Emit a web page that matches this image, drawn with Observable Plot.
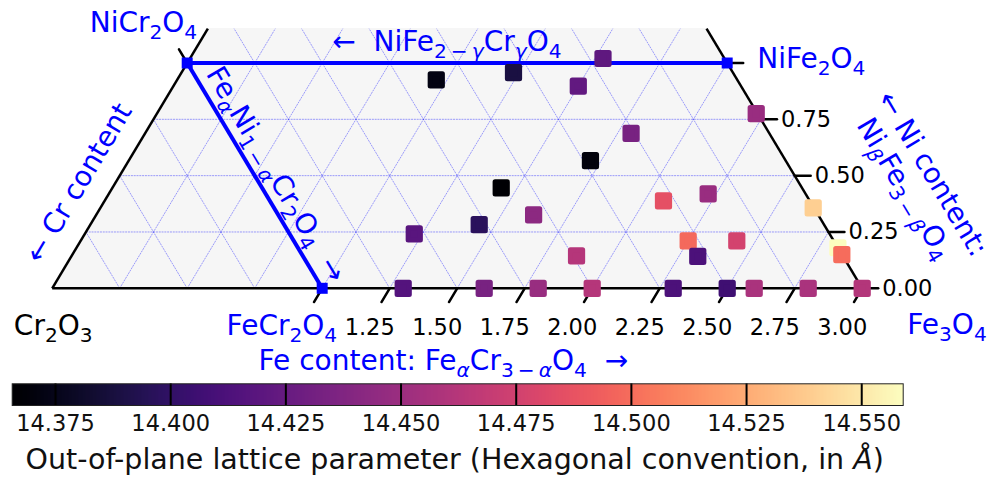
<!DOCTYPE html>
<html>
<head>
<meta charset="utf-8">
<script src="https://cdn.jsdelivr.net/npm/d3@7"></script>
<script src="https://cdn.jsdelivr.net/npm/@observablehq/plot@0.6"></script>
<style>
  html, body { margin: 0; padding: 0; background: #fff; }
  #chart svg { display: block; }
</style>
</head>
<body>
<div id="chart"></div>
<script>
// Film compositions in the Cr2O3 – Fe3O4 – NiO spinel/corundum system:
// Fe content (α), Ni content (β) per formula unit, and out-of-plane lattice parameter c (Å)
const feContent = [0.96, 1.23, 1.53, 1.50, 1.80, 1.71, 1.44, 2.22, 2.07, 2.22,
                   2.64, 2.82, 2.85, 2.25, 2.32, 2.43, 1.87, 1.62, 1.44, 1.22,
                   1.30, 1.60, 1.80, 2.00, 2.30, 2.50, 2.60, 2.80, 3.00];
const niContent = [0.925, 0.957, 1.02, 0.897, 0.688, 0.567, 0.446, 0.775, 0.388, 0.419,
                   0.357, 0.180, 0.149, 0.211, 0.142, 0.211, 0.144, 0.326, 0.283, 0.242,
                   0, 0, 0, 0, 0, 0, 0, 0, 0];
const latticeC  = [14.372, 14.389, 14.421, 14.423, 14.433, 14.370, 14.3656, 14.449, 14.486, 14.449,
                   14.540, 14.559, 14.500, 14.498, 14.412, 14.476, 14.462, 14.443, 14.397, 14.418,
                   14.416, 14.433, 14.448, 14.462, 14.412, 14.406, 14.457, 14.457, 14.461];

// Axis ticks
const feTicks = [1.00, 1.25, 1.50, 1.75, 2.00, 2.25, 2.50, 2.75, 3.00];
const feTickLabels = [1.25, 1.50, 1.75, 2.00, 2.25, 2.50, 2.75, 3.00];
const niTicks = [0.00, 0.25, 0.50, 0.75, 1.00];
const niTickLabels = [0.00, 0.25, 0.50, 0.75];
const crTicks = [2.00];
const gridSteps = [0.25, 0.5, 0.75, 1, 1.25, 1.5, 1.75, 2, 2.25, 2.5, 2.75];
const niGrid = [0.25, 0.5, 0.75, 1.0];
const cbTicks = [14.375, 14.400, 14.425, 14.450, 14.475, 14.500, 14.525, 14.550];

// Composition limits: total cations = 3, Ni axis shown up to niTop
const feMax = 3;
const niTop = 1.153;

// End members and corner compounds
const endmemberNames = ["NiCr_{2}O_{4}", "NiFe_{2}O_{4}", "FeCr_{2}O_{4}"];
const endmemberFe = [0, 2, 1];
const endmemberNi = [1, 1, 0];
const cornerNames = ["Cr_{2}O_{3}", "Fe_{3}O_{4}"];
const cornerFe = [0, 3];
const cornerNi = [0, 0];

const samples = feContent.map((fe, i) => ({fe, ni: niContent[i], c: latticeC[i]}));
const members = endmemberNames.map((name, i) => ({name, fe: endmemberFe[i], ni: endmemberNi[i]}));
const corners = cornerNames.map((name, i) => ({name, fe: cornerFe[i], ni: cornerNi[i]}));
const [NiCr, NiFe, FeCr] = members;
const [Cr2O3, Fe3O4] = corners;

// Ternary projection: horizontal = Fe + Ni/2, vertical = Ni
const X = d => d.fe + d.ni / 2;
const Y = d => d.ni;

// Background area and triangle edges (cut at niTop)
const outline = [
  {fe: 0, ni: 0},
  {fe: 0, ni: niTop},
  {fe: feMax - niTop, ni: niTop},
  {fe: feMax, ni: 0}
];
const edges = [
  {a: {fe: 0, ni: 0}, b: {fe: 0, ni: niTop}},
  {a: {fe: 0, ni: 0}, b: {fe: feMax, ni: 0}},
  {a: {fe: feMax, ni: 0}, b: {fe: feMax - niTop, ni: niTop}}
];

// Triangular grid: constant Ni, constant Fe, constant Cr
const gridSegs = [
  ...niGrid.map(n => ({a: {fe: 0, ni: n}, b: {fe: feMax - n, ni: n}})),
  ...gridSteps.map(f => { const n = Math.min(feMax - f, niTop); return {a: {fe: f, ni: 0}, b: {fe: f, ni: n}}; }),
  ...gridSteps.map(c => { const n = Math.min(c, niTop); return {a: {fe: c, ni: 0}, b: {fe: c - n, ni: n}}; })
];

const tieLines = [{a: NiCr, b: NiFe}, {a: NiCr, b: FeCr}];

const tickShape = {
  draw(context, l) { context.moveTo(0, 0); context.lineTo(0, -l); }
};

const cDomain = d3.extent(latticeC);
const blue = "#0000ff";
const font = "DejaVu Sans";
const fmt2 = d3.format(".2f");
const fmt3 = d3.format(".3f");

const seg = (opts) => ({
  x1: s => X(s.a), y1: s => Y(s.a), x2: s => X(s.b), y2: s => Y(s.b), ...opts
});

const W = 993;
const mainH = 375;

const main = Plot.plot({
  width: W,
  height: mainH,
  marginLeft: 51.7,
  marginRight: W - 861.7,
  marginTop: 62.5,
  marginBottom: mainH - 287.8,
  x: {domain: [0, feMax], axis: null},
  y: {domain: [0, 1], axis: null},
  color: {type: "linear", scheme: "magma", domain: cDomain},
  style: {background: "white", fontFamily: font, overflow: "visible"},
  marks: [
    Plot.areaY(outline, {x: X, y1: 0, y2: Y, fill: "#f6f6f6"}),
    Plot.link(gridSegs, seg({stroke: blue, strokeOpacity: 0.42, strokeWidth: 0.9, strokeDasharray: "2,0.8"})),
    Plot.link(edges, seg({stroke: "black", strokeWidth: 2.5})),
    // ticks
    Plot.vector(feTicks, {x: d => d, y: 0, rotate: 210.9, length: 16, anchor: "start", shape: tickShape, stroke: "black", strokeWidth: 2.5}),
    Plot.vector(niTicks, {x: d => feMax - d / 2, y: d => d, rotate: 90, length: 16, anchor: "start", shape: tickShape, stroke: "black", strokeWidth: 2.5}),
    Plot.vector(crTicks, {x: d => (feMax - d) / 2, y: d => feMax - d, rotate: -30.9, length: 16, anchor: "start", shape: tickShape, stroke: "black", strokeWidth: 2.5}),
    // tie lines between end members
    Plot.link(tieLines, seg({stroke: blue, strokeWidth: 4})),
    Plot.dot(members, {x: X, y: Y, symbol: "square", r: 6.2, fill: blue}),
    // samples
    Plot.dot(samples, {x: X, y: Y, symbol: "square", r: 6.9, fill: "c", stroke: "c", strokeWidth: 5, strokeLinejoin: "round"}),
    // tick labels
    Plot.text(feTickLabels, {x: d => d, y: 0, text: fmt2, dx: -20, dy: 39, fontSize: 22.5, fill: "black"}),
    Plot.text(niTickLabels, {x: d => feMax - d / 2, y: d => d, text: fmt2, dx: 20, textAnchor: "start", fontSize: 22.5, fill: "black"}),
    // end member and corner labels
    Plot.text([NiCr], {x: X, y: Y, text: "name", textAnchor: "end", dx: 10, dy: -39.5, fontSize: 28, fill: blue}),
    Plot.text([NiFe], {x: X, y: Y, text: "name", textAnchor: "start", dx: 30, dy: -4, fontSize: 28, fill: blue}),
    Plot.text([FeCr], {x: X, y: Y, text: "name", textAnchor: "end", dx: 15, dy: 38, fontSize: 28, fill: blue}),
    Plot.text([Cr2O3], {x: X, y: Y, text: "name", textAnchor: "middle", dx: 1, dy: 38, fontSize: 28, fill: "black"}),
    Plot.text([Fe3O4], {x: X, y: Y, text: "name", textAnchor: "start", dx: 45, dy: 37, fontSize: 28, fill: blue}),
    // series and axis titles
    Plot.text([NiCr], {x: X, y: Y, text: () => "←\u00a0 NiFe_{2\u2009−\u2009*γ*}Cr_{*γ*}O_{4}", textAnchor: "start", dx: 145, dy: -21, fontSize: 28, fill: blue}),
    Plot.text([{fe: 0.537, ni: 0.463}], {x: X, y: Y, text: () => "Fe_{*α*}Ni_{1\u2009−\u2009*α*}Cr_{2}O_{4} \u00a0→", rotate: 59.3, dx: 16, dy: -9.5, fontSize: 28, fill: blue}),
    Plot.text([FeCr], {x: X, y: Y, text: () => "Fe content: Fe_{*α*}Cr_{3\u2009−\u2009*α*}O_{4} \u00a0→", textAnchor: "start", dx: -63.7, dy: 73, fontSize: 28, fill: blue}),
    Plot.text([{fe: 0, ni: 0.396}], {x: X, y: Y, text: () => "← Cr content", rotate: -59.1, dx: -26.7, dy: -16, fontSize: 28, fill: blue}),
    Plot.text([{fe: feMax - 0.235, ni: 0.235}], {x: X, y: Y, text: () => "← Ni content:", rotate: 59.1, dx: 102, dy: -61.5, fontSize: 28, fill: blue}),
    Plot.text([{fe: feMax - 0.243, ni: 0.243}], {x: X, y: Y, text: () => "Ni_{*β*}Fe_{3\u2009−\u2009*β*}O_{4}", rotate: 59.1, dx: 75, dy: -45, fontSize: 28, fill: blue})
  ]
});

// Colour bar
const cbH = 102;
const colorbar = Plot.plot({
  width: W,
  height: cbH,
  marginLeft: 11.7,
  marginRight: W - 902.7,
  marginTop: 8.3,
  marginBottom: cbH - 30,
  x: {domain: cDomain, axis: null},
  y: {domain: [0, 1], axis: null},
  color: {type: "linear", scheme: "magma", domain: cDomain},
  style: {background: "white", fontFamily: font, overflow: "visible"},
  marks: [
    Plot.raster({fill: (x, y) => x, x1: cDomain[0], x2: cDomain[1], y1: 0, y2: 1, width: 891, height: 1}),
    Plot.ruleX(cbTicks, {y1: 0, y2: 1, stroke: "black", strokeWidth: 2}),
    Plot.frame({stroke: "#222", strokeWidth: 1}),
    Plot.text(cbTicks, {x: d => d, y: 0, text: fmt3, dy: 18, lineAnchor: "middle", fontSize: 22.5, fill: "#111"}),
    Plot.text(["Out-of-plane lattice parameter (Hexagonal convention, in *Å*)"], {frameAnchor: "top", lineAnchor: "middle", dx: -3, dy: 76, fontSize: 28.5, fill: "#111"})
  ]
});

const root = document.getElementById("chart");
root.appendChild(main);
root.appendChild(colorbar);

// Render chemical formulas: _{...} as subscript, *...* as italic
const svgNS = "http://www.w3.org/2000/svg";
function richText(svg) {
  for (const t of svg.querySelectorAll("text")) {
    const s = t.textContent;
    if (!/_\{|\*/.test(s)) continue;
    const fs = parseFloat(getComputedStyle(t).fontSize) || 28;
    const shift = 0.24 * fs;
    while (t.firstChild) t.removeChild(t.firstChild);
    let italic = false, sub = false, lowered = false, buf = "";
    const flush = () => {
      if (!buf) return;
      const ts = document.createElementNS(svgNS, "tspan");
      ts.textContent = buf;
      if (italic) ts.setAttribute("font-style", "italic");
      if (sub) ts.setAttribute("font-size", (0.72 * fs).toFixed(2));
      if (sub !== lowered) {
        ts.setAttribute("dy", (sub ? shift : -shift).toFixed(2));
        lowered = sub;
      }
      t.appendChild(ts);
      buf = "";
    };
    for (let i = 0; i < s.length; i++) {
      const ch = s[i];
      if (ch === "_" && s[i + 1] === "{") { flush(); sub = true; i++; }
      else if (ch === "}" && sub) { flush(); sub = false; }
      else if (ch === "*") { flush(); italic = !italic; }
      else buf += ch;
    }
    flush();
  }
}
richText(main);
richText(colorbar);
</script>
</body>
</html>
